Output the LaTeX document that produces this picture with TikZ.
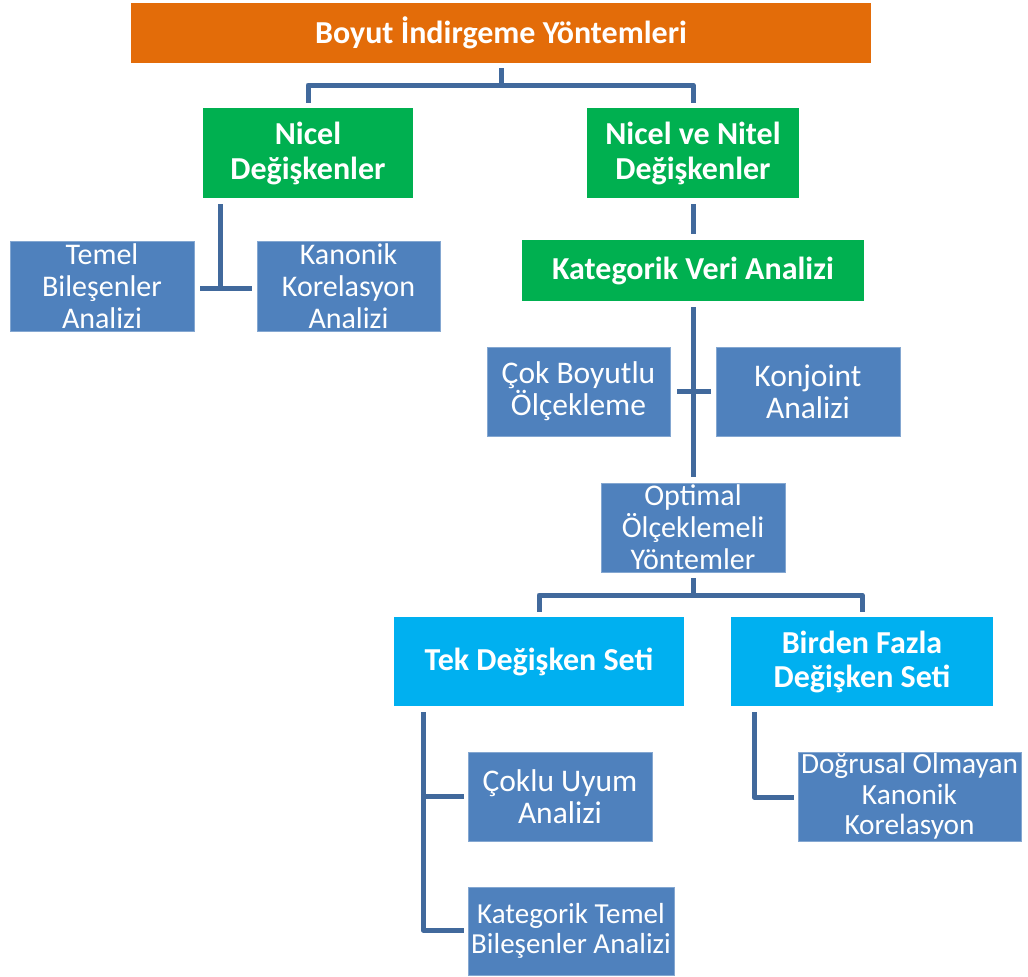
\documentclass[tikz,border=0pt]{standalone}
\usepackage{fontspec}
\setmainfont{Carlito}
\usepackage[HTML]{xcolor}
\usepackage{tikz}
\usetikzlibrary{positioning, calc}

\definecolor{topOrange}{HTML}{E36C09}
\definecolor{mainGreen}{HTML}{00B050}
\definecolor{setCyan}{HTML}{00B0F0}
\definecolor{leafBlue}{HTML}{4F81BD}
\definecolor{connBlue}{HTML}{41699C}

\begin{document}
\begin{tikzpicture}[x=1pt, y=-1pt,
  box/.style={rectangle, inner sep=0pt, text=white, align=center},
  headbox/.style={box, fill=topOrange, font=\fontsize{32}{35}\selectfont\bfseries},
  groupbox/.style={box, fill=mainGreen, font=\fontsize{32}{35}\selectfont\bfseries},
  setbox/.style={box, fill=setCyan, font=\fontsize{32}{34}\selectfont\bfseries},
  leafbox/.style={box, fill=leafBlue, draw=leafBlue!70!white, line width=0.6pt, font=\fontsize{#1}{32}\selectfont},
  leafbox/.default=31.5,
  smallleaf/.style={leafbox, font=\fontsize{#1}{30.5}\selectfont},
  smallleaf/.default=29.3,
  conn/.style={draw=connBlue, line width=5pt, line join=round}]
\useasboundingbox (0,0) rectangle (1028,977);

% top level
\node[headbox, minimum width=740pt, minimum height=60pt] (head) at (501,33) {Boyut İndirgeme Yöntemleri};

% variable types
\node[groupbox, minimum width=210pt, minimum height=90pt] (nicel) at (308,153) {Nicel\\Değişkenler};
\node[groupbox, minimum width=212pt, minimum height=90pt] (nitel) at (693,153) {Nicel ve Nitel\\Değişkenler};

% methods for quantitative variables
\node[leafbox=30, minimum width=184pt, minimum height=90pt] (tba) at (102,286) {Temel\\Bileşenler\\Analizi};
\node[leafbox=30, minimum width=183pt, minimum height=90pt] (kka) at (348.5,286) {Kanonik\\Korelasyon\\Analizi};

% categorical branch
\node[groupbox, minimum width=342pt, minimum height=61pt] (kva) at (693,270.5) {Kategorik Veri Analizi};
\node[leafbox, minimum width=183pt, minimum height=89pt] (cbo) at (578.5,391.5) {Çok Boyutlu\\Ölçekleme};
\node[leafbox, minimum width=184pt, minimum height=89pt] (kon) at (808,391.5) {Konjoint\\Analizi};
\node[leafbox=30, minimum width=184pt, minimum height=89pt] (opt) at (693,527.5) {Optimal\\Ölçeklemeli\\Yöntemler};

% variable sets
\node[setbox, minimum width=290pt, minimum height=89pt] (tek) at (539,661.5) {Tek Değişken Seti};
\node[setbox, minimum width=262pt, minimum height=89pt] (coklu) at (862,661.5) {Birden Fazla\\Değişken Seti};

% leaves
\node[leafbox, minimum width=184pt, minimum height=89pt] (cua) at (560,796.5) {Çoklu Uyum\\Analizi};
\node[smallleaf=29, minimum width=206pt, minimum height=88pt] (ktba) at (571,931) {Kategorik Temel\\Bileşenler Analizi};
\node[smallleaf, minimum width=223pt, minimum height=89pt] (dok) at (909.5,796.5) {Doğrusal Olmayan\\Kanonik\\Korelasyon};

% connectors
\coordinate (b1) at (501,85);
\draw[conn] ([yshift=-5pt]head.south) -- (b1) -| ([yshift=5pt]nicel.north);
\draw[conn] (b1) -| ([yshift=5pt]nitel.north);

\coordinate (j1) at (220,288);
\draw[conn] ([yshift=-6pt]nicel.south -| j1) -- (j1);
\draw[conn] ([xshift=6pt]tba.east |- j1) -- ([xshift=-5pt]kka.west |- j1);

\draw[conn] ([yshift=-6pt]nitel.south) -- ([yshift=6pt]kva.north);
\draw[conn] ([yshift=-6pt]kva.south) -- ([yshift=6pt]opt.north);
\draw[conn] ([xshift=7pt]cbo.east) -- ([xshift=-5pt]kon.west);

\coordinate (b2) at (693,595);
\draw[conn] ([yshift=-6pt]opt.south) -- (b2) -| ([yshift=5pt]tek.north);
\draw[conn] (b2) -| ([yshift=5pt]coklu.north);

\coordinate (j2) at (423,930);
\draw[conn] ([yshift=-6pt]tek.south -| j2) -- (j2) -- ([xshift=-4pt]ktba.west |- j2);
\draw[conn] (j2 |- cua.west) -- ([xshift=-4pt]cua.west);

\coordinate (j3) at (754,797);
\draw[conn] ([yshift=-6pt]coklu.south -| j3) -- (j3) -- ([xshift=-4pt]dok.west |- j3);
\end{tikzpicture}
\end{document}
